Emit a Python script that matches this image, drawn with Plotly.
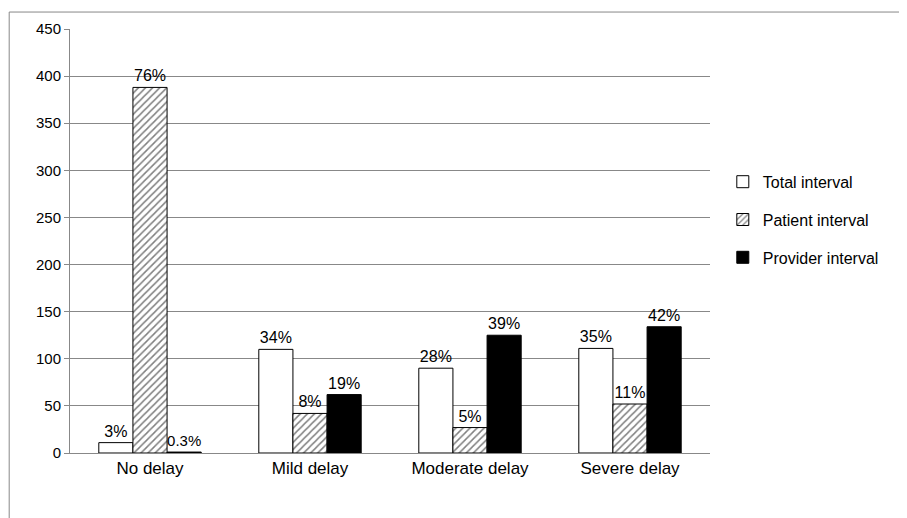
import plotly.graph_objects as go

categories = ["No delay", "Mild delay", "Moderate delay", "Severe delay"]
total = [11, 110, 90, 111]
patient = [388, 42, 27, 52]
provider = [1, 62, 125, 134]
total_pct = ["3%", "34%", "28%", "35%"]
patient_pct = ["76%", "8%", "5%", "11%"]
provider_pct = ["0.3%", "19%", "39%", "42%"]

fig = go.Figure()
fig.add_trace(go.Bar(x=categories, y=total, name="Total interval", text=total_pct, legendgroup="a",
                     marker=dict(color="white", line=dict(color="black", width=1))))
fig.add_trace(go.Bar(x=categories, y=patient, name="Patient interval", text=patient_pct, legendgroup="b",
                     marker=dict(color="white", line=dict(color="black", width=1),
                                 pattern=dict(shape="/", fgcolor="black", size=5, solidity=0.3))))
fig.add_trace(go.Bar(x=categories, y=provider, name="Provider interval", text=provider_pct, legendgroup="c",
                     marker=dict(color="black", line=dict(color="black", width=1))))
fig.update_traces(textposition="outside", cliponaxis=False,
                  textfont=dict(size=16, color="black"))

fig.update_layout(
    width=907, height=518, barmode="group", bargap=0.36, bargroupgap=0,
    plot_bgcolor="white", paper_bgcolor="white",
    font=dict(family="Liberation Sans, Arial", size=15, color="black"),
    margin=dict(l=62, r=205, t=17, b=73),
    legend=dict(x=1.02, y=0.55, yanchor="middle", font=dict(size=16),
                bgcolor="rgba(0,0,0,0)", tracegroupgap=14),
    yaxis=dict(range=[0, 450], dtick=50, showgrid=True, gridcolor="#888", gridwidth=1,
               showline=True, linecolor="#888", ticks="outside", tickcolor="#888",
               tickfont=dict(size=15), zeroline=False),
    xaxis=dict(showline=True, linecolor="#888", tickfont=dict(size=17), ticks=""),
    shapes=[dict(type="rect", xref="paper", yref="paper", x0=-0.095, x1=1.31,
                 y0=-0.165, y1=1.04, line=dict(color="#888", width=1))],
)

fig.write_html("out.html")
